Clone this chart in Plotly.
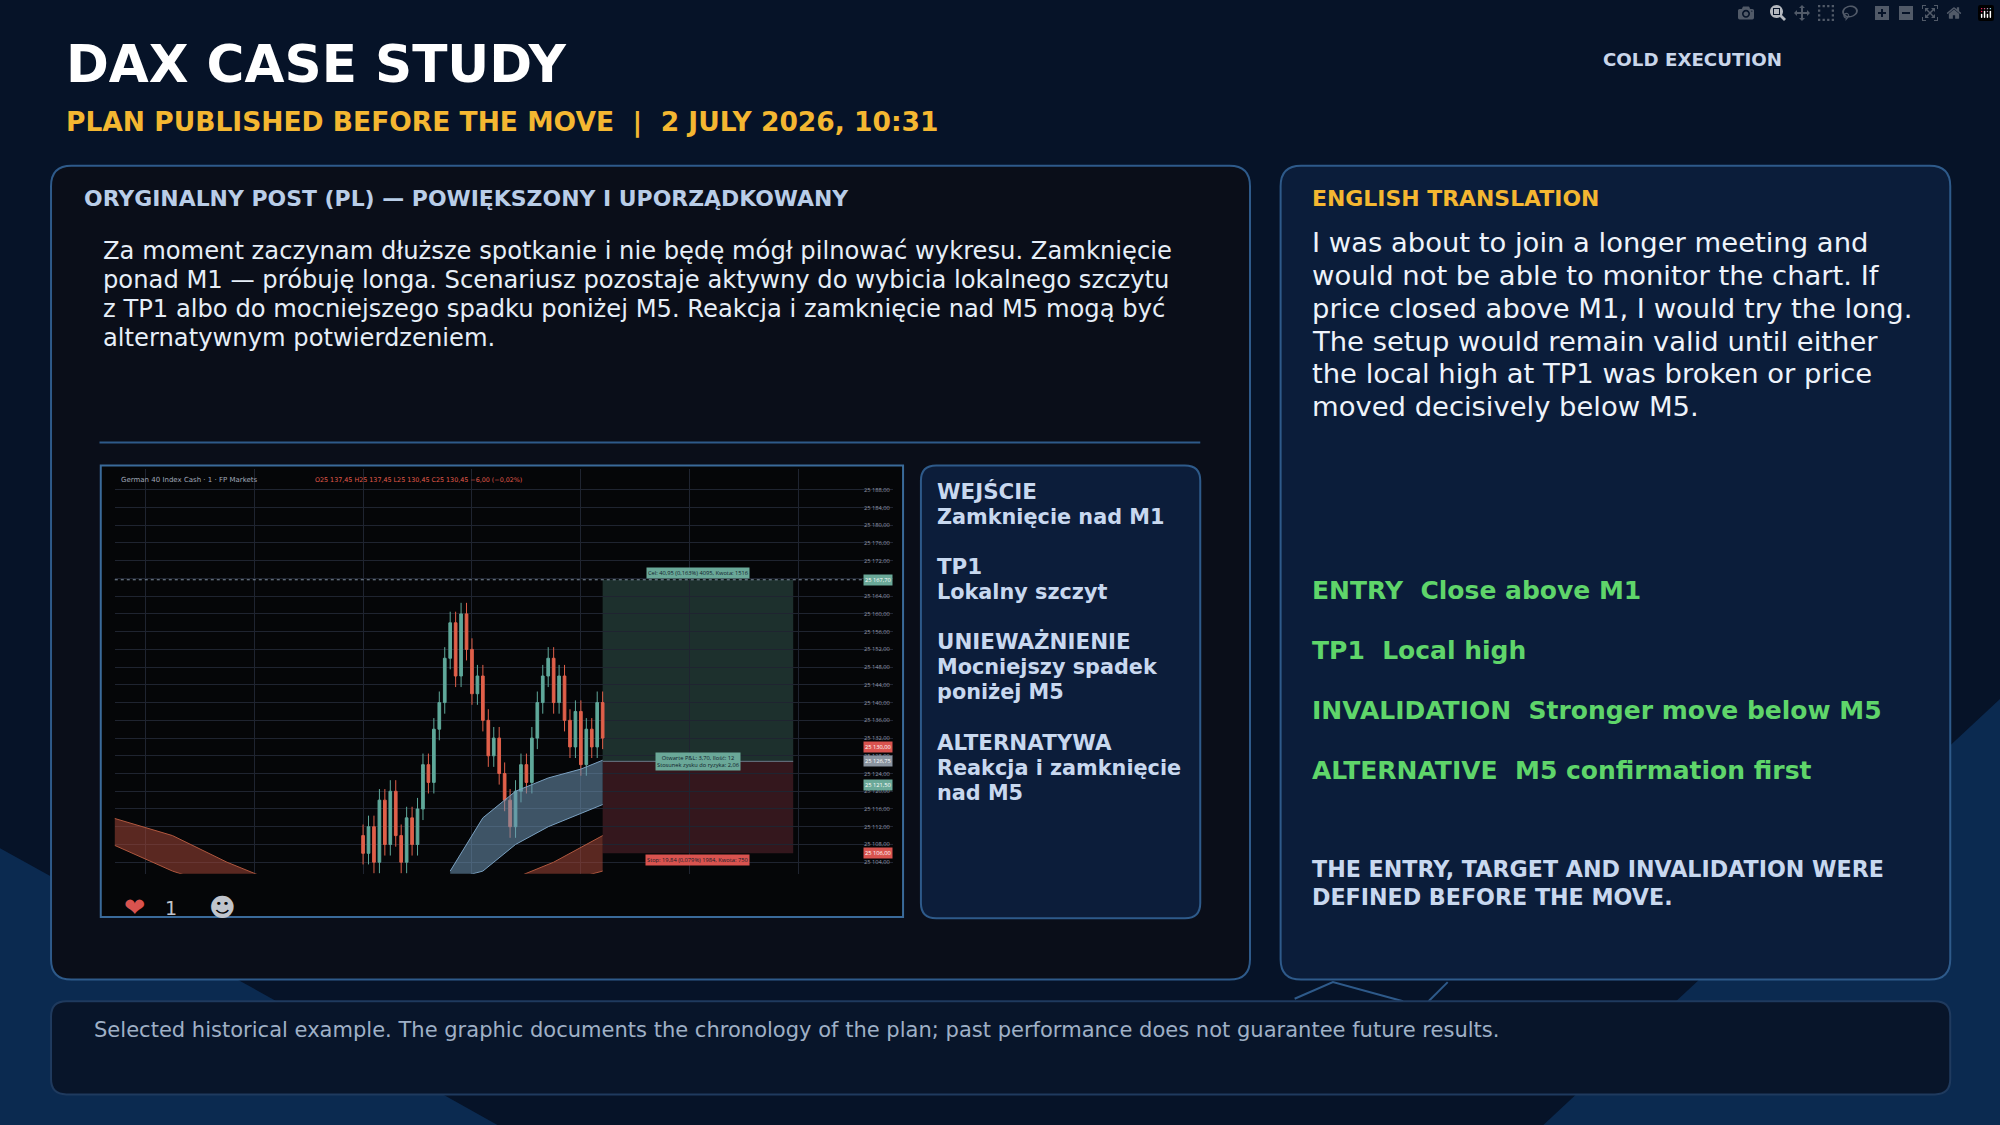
import plotly.graph_objects as go

W, H = 1568.0, 882.0
S = 2000 / 1568.0

# ---------------- data ----------------
candle_idx = list(range(45))
closes = [25106, 25112, 25104, 25118, 25108, 25120, 25110, 25104, 25114, 25108, 25116,
          25126, 25122, 25134, 25140, 25150, 25158, 25146, 25160, 25152, 25142, 25146,
          25136, 25128, 25132, 25124, 25118, 25112, 25120, 25126, 25122, 25132, 25140,
          25146, 25150, 25140, 25146, 25136, 25130, 25138, 25126, 25134, 25130, 25140, 25132]
first_open = 25110
price_ticks = [25104, 25108, 25112, 25116, 25120, 25124, 25128, 25132, 25136, 25140, 25144,
               25148, 25152, 25156, 25160, 25164, 25168, 25172, 25176, 25180, 25184, 25188]
tp_level, entry_level, stop_level = 25167.7, 25126.75, 25106.0
box_start, box_end = 44, 79
cloud_x = [16, 22, 28, 34, 40, 44]
cloud_up = [25102, 25114, 25120, 25123, 25125, 25127]
cloud_lo = [25100, 25102, 25108, 25112, 25115, 25117]
redL_x = [-46, -35, -25, -17]
redL_up = [25114, 25110, 25104, 25100]
redL_lo = [25108, 25102, 25098, 25096]
redR_x = [27, 35, 44]
redR_up = [25100, 25104, 25110]
redR_lo = [25098, 25099, 25102]

pl_lines = ["Za moment zaczynam dłuższe spotkanie i nie będę mógł pilnować wykresu. Zamknięcie",
            "ponad M1 — próbuję longa. Scenariusz pozostaje aktywny do wybicia lokalnego szczytu",
            "z TP1 albo do mocniejszego spadku poniżej M5. Reakcja i zamknięcie nad M5 mogą być",
            "alternatywnym potwierdzeniem."]
en_lines = ["I was about to join a longer meeting and",
            "would not be able to monitor the chart. If",
            "price closed above M1, I would try the long.",
            "The setup would remain valid until either",
            "the local high at TP1 was broken or price",
            "moved decisively below M5."]
side_items = [("WEJŚCIE", ["Zamknięcie nad M1"]), ("TP1", ["Lokalny szczyt"]),
              ("UNIEWAŻNIENIE", ["Mocniejszy spadek", "poniżej M5"]),
              ("ALTERNATYWA", ["Reakcja i zamknięcie", "nad M5"])]
en_items = ["ENTRY  Close above M1", "TP1  Local high",
            "INVALIDATION  Stronger move below M5", "ALTERNATIVE  M5 confirmation first"]

opens = [first_open] + closes[:-1]
highs = [max(o, c) + 2.5 for o, c in zip(opens, closes)]
lows = [min(o, c) - 2.5 for o, c in zip(opens, closes)]

def px(x): return x / W
def py(y): return 1 - y / H

shapes, ann = [], []

def rrect(x0, y0, x1, y1, r, fill, line, lw=2):
    rx, ry = r / W, r / H
    X0, X1, Y0, Y1 = px(x0), px(x1), py(y0), py(y1)
    p = (f"M{X0+rx},{Y0} L{X1-rx},{Y0} Q{X1},{Y0} {X1},{Y0-ry} L{X1},{Y1+ry} Q{X1},{Y1} {X1-rx},{Y1} "
         f"L{X0+rx},{Y1} Q{X0},{Y1} {X0},{Y1+ry} L{X0},{Y0-ry} Q{X0},{Y0} {X0+rx},{Y0} Z")
    shapes.append(dict(type="path", path=p, xref="paper", yref="paper", fillcolor=fill,
                       line=dict(color=line, width=lw), layer="below"))

def poly(pts, fill):
    p = "M" + " L".join(f"{px(a)},{py(b)}" for a, b in pts) + " Z"
    shapes.append(dict(type="path", path=p, xref="paper", yref="paper", fillcolor=fill,
                       line=dict(width=0), layer="below"))

def txt(x, y, t, size, color, bold=False, anchor="left"):
    if bold: t = f"<b>{t}</b>"
    ann.append(dict(x=px(x), y=py(y), xref="paper", yref="paper", text=t, showarrow=False,
                    xanchor=anchor, yanchor="middle", font=dict(size=size * S, color=color,
                    family="DejaVu Sans")))

# background polygons
poly([(0, 665), (190, 770), (390, 882), (0, 882)], "#0b2a50")
poly([(1568, 548), (1330, 770), (1210, 882), (1568, 882)], "#0b2a50")
shapes.append(dict(type="path", xref="paper", yref="paper", layer="below",
                   path=f"M{px(1015)},{py(783)} L{px(1045)},{py(770)} L{px(1100)},{py(785)}",
                   line=dict(color="#2e5a8a", width=2)))
shapes.append(dict(type="line", xref="paper", yref="paper", layer="below",
                   x0=px(1120), y0=py(785), x1=px(1135), y1=py(770), line=dict(color="#2e5a8a", width=2)))

# panels
rrect(40, 130, 980, 768, 16, "#0a0e19", "#2e5a8a")
rrect(1004, 130, 1529, 768, 16, "#0b1d3a", "#2e5a8a")
rrect(40, 785, 1529, 858, 12, "#08152a", "#1f3a5e")
rrect(722, 365, 941, 720, 12, "#0c1d3a", "#2e5a8a")
shapes.append(dict(type="line", xref="paper", yref="paper", x0=px(78), x1=px(941), y0=py(347), y1=py(347),
                   line=dict(color="#2e5a8a", width=2)))
shapes.append(dict(type="rect", xref="paper", yref="paper", x0=px(79), x1=px(708), y0=py(719), y1=py(365),
                   fillcolor="#050608", line=dict(color="#3a6a9a", width=2), layer="below"))

# titles
txt(50, 50, "DAX CASE STUDY", 40.5, "#ffffff", True)
txt(50, 96, "PLAN PUBLISHED BEFORE THE MOVE  |  2 JULY 2026, 10:31", 20.8, "#f4b731", True)
txt(1255, 47, "COLD EXECUTION", 14.3, "#c9d6ea", True)
txt(64, 156, "ORYGINALNY POST (PL) — POWIĘKSZONY I UPORZĄDKOWANY", 17.2, "#b9cde8", True)
for i, l in enumerate(pl_lines):
    txt(79, 197 + i * 22.7, l, 19, "#e6eef8")
txt(1027, 156, "ENGLISH TRANSLATION", 17.2, "#f4b731", True)
for i, l in enumerate(en_lines):
    txt(1027, 190 + i * 25.8, l, 21.5, "#eef3fa")
for i, l in enumerate(en_items):
    txt(1027, 463 + i * 47, l, 19.6, "#5fd56a", True)
txt(1027, 681, "THE ENTRY, TARGET AND INVALIDATION WERE", 17.4, "#c8d8ef", True)
txt(1027, 703, "DEFINED BEFORE THE MOVE.", 17.4, "#c8d8ef", True)
txt(72, 807, "Selected historical example. The graphic documents the chronology of the plan; past performance does not guarantee future results.", 16.5, "#9fb0c6")
ys = [385, 444, 503, 582]
for (h, lines), y in zip(side_items, ys):
    txt(733, y, h, 16.8, "#c8d8ef", True)
    for j, l in enumerate(lines):
        txt(733, y + 20 + j * 19.5, l, 16.3, "#c8d8ef", True)

# chart header & reactions
txt(93, 376, "German 40 Index Cash · 1 · FP Markets", 5.5, "#a0a8b8")
txt(245, 376, "O25 137,45 H25 137,45 L25 130,45 C25 130,45 −6,00 (−0,02%)", 5, "#e05a4a")
txt(96, 711, "❤", 20, "#d9534f")
txt(128, 712, "1", 15, "#c0c4cc")
txt(162, 711, "☻", 20, "#c0c4cc")

fig = go.Figure()
for xs, up, lo, fc, lc in [(redL_x, redL_up, redL_lo, "rgba(160,70,55,0.55)", "#b0583f"),
                           (redR_x, redR_up, redR_lo, "rgba(160,70,55,0.55)", "#b0583f"),
                           (cloud_x, cloud_up, cloud_lo, "rgba(110,150,180,0.55)", "#7aa0c0")]:
    fig.add_trace(go.Scatter(x=xs, y=lo, mode="lines", line=dict(color=lc, width=1), showlegend=False, hoverinfo="skip"))
    fig.add_trace(go.Scatter(x=xs, y=up, mode="lines", line=dict(color=lc, width=1), fill="tonexty",
                             fillcolor=fc, showlegend=False, hoverinfo="skip"))
fig.add_trace(go.Candlestick(x=candle_idx, open=opens, high=highs, low=lows, close=closes,
                             increasing=dict(line=dict(color="#5fa89a", width=1), fillcolor="#5fa89a"),
                             decreasing=dict(line=dict(color="#e0604a", width=1), fillcolor="#e0604a"),
                             showlegend=False, whiskerwidth=0))

# position box
shapes += [
    dict(type="rect", xref="x", yref="y", x0=box_start, x1=box_end, y0=entry_level, y1=tp_level,
         fillcolor="rgba(60,100,90,0.45)", line=dict(width=0), layer="below"),
    dict(type="rect", xref="x", yref="y", x0=box_start, x1=box_end, y0=stop_level, y1=entry_level,
         fillcolor="rgba(110,45,55,0.45)", line=dict(width=0), layer="below"),
    dict(type="line", xref="x domain", yref="y", x0=0, x1=1, y0=tp_level, y1=tp_level,
         line=dict(color="#8090a0", width=1, dash="dot")),
    dict(type="line", xref="x", yref="y", x0=box_start, x1=box_end, y0=entry_level, y1=entry_level,
         line=dict(color="#6a7a8a", width=1)),
]
for lvl, t, bg in [(tp_level + 1.6, "Cel: 40,95 (0,163%) 4095, Kwota: 1516", "#6aa898"),
                   (entry_level, "Otwarte P&L: 3,70, Ilość: 12<br>Stosunek zysku do ryzyka: 2,06", "#6aa898"),
                   (stop_level - 1.5, "Stop: 19,84 (0,079%) 1984, Kwota: 750", "#d9534f")]:
    ann.append(dict(x=(box_start + box_end) / 2, y=lvl, xref="x", yref="y", text=t, showarrow=False,
                    bgcolor=bg, font=dict(size=4.5 * S, color="#10202a"), borderpad=1))
for lvl, bg in [(tp_level, "#6aa898"), (25130, "#d9534f"), (entry_level, "#8a94a0"), (25121.5, "#6aa898"), (stop_level, "#d9534f")]:
    ann.append(dict(x=1, y=lvl, xref="x domain", yref="y", text=f"{lvl:,.2f}".replace(",", " ").replace(".", ","),
                    showarrow=False, xanchor="right", bgcolor=bg, font=dict(size=4.5 * S, color="#ffffff"), borderpad=1))

fig.update_layout(
    width=2000, height=1125, margin=dict(l=0, r=0, t=0, b=0),
    paper_bgcolor="#061328", plot_bgcolor="#161a25",
    shapes=shapes, annotations=ann, showlegend=False,
    xaxis=dict(domain=[px(90), px(700)], range=[-45.6, 97.3], showgrid=True, gridcolor="#1f2430",
               showticklabels=False, zeroline=False, rangeslider=dict(visible=False), fixedrange=True),
    yaxis=dict(domain=[py(685), py(368)], range=[25101.4, 25192.6], side="right", tickvals=price_ticks,
               ticktext=[f"{v:,}".replace(",", " ") + ",00" for v in price_ticks],
               ticklabelposition="inside", tickfont=dict(size=4.5 * S, color="#9098a8"),
               showgrid=True, gridcolor="#1f2430", zeroline=False),
)
fig.write_html("out.html", post_script="document.body.style.margin='0';document.body.style.background='#061328';")
